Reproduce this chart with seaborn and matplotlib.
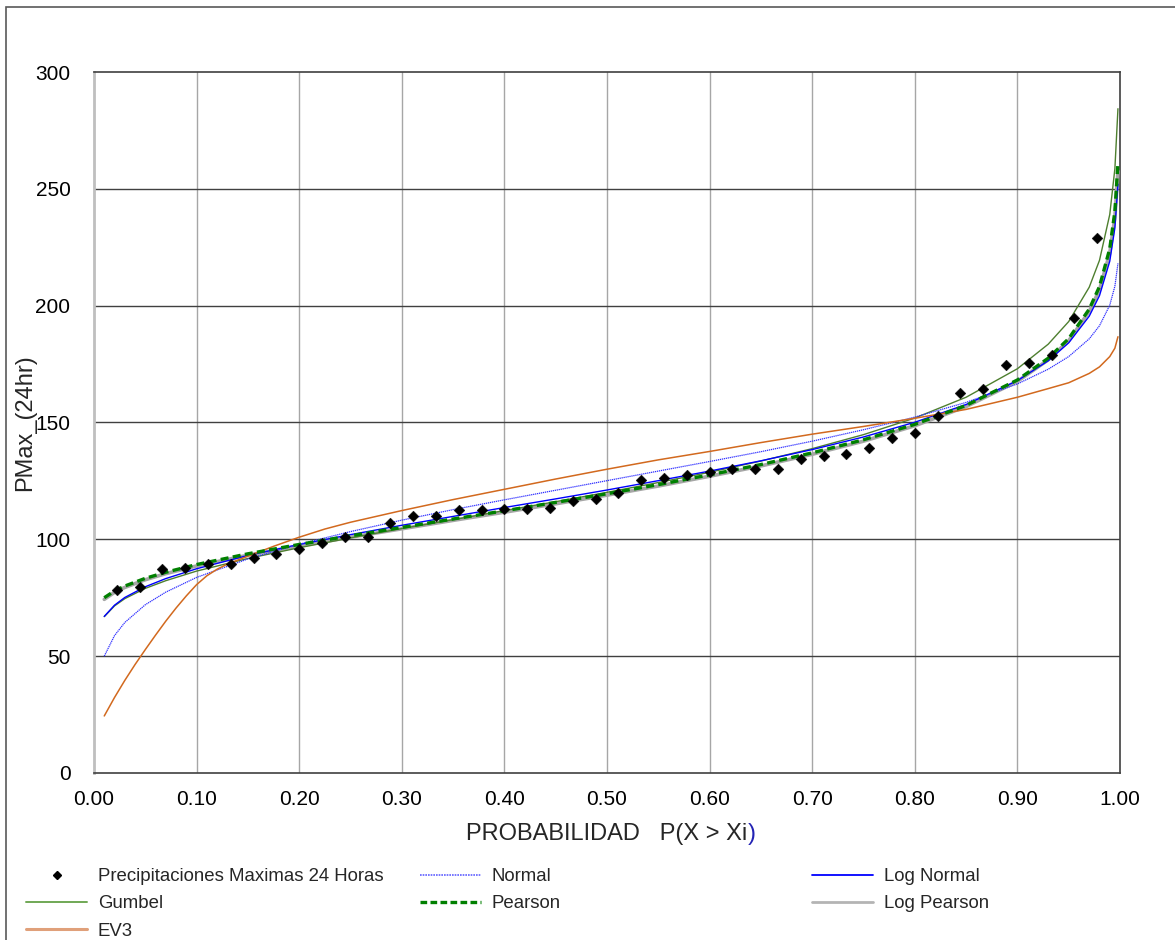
import numpy as np
import pandas as pd
import matplotlib
matplotlib.use("Agg")
import matplotlib.pyplot as plt
from matplotlib.lines import Line2D
from matplotlib.patches import Rectangle
import seaborn as sns

# Observed 24-hour maximum precipitation, plotted at Weibull positions m/(n+1)
obs_prob = [i / 45 for i in range(1, 45)]
obs_pmax = [78.3, 79.5, 87.3, 87.6, 89.3, 89.6, 92.0, 93.7, 95.9, 98.6,
            101.1, 101.2, 107.0, 110.0, 110.0, 112.4, 112.5, 113.1, 112.8, 113.5,
            116.5, 117.1, 120.0, 125.4, 126.1, 127.6, 128.9, 129.9, 130.1, 130.1,
            134.4, 135.8, 136.6, 138.9, 143.3, 145.4, 152.9, 162.5, 164.3, 174.6,
            175.3, 178.9, 194.6, 229.1]

# Probabilities at which the fitted distributions are tabulated
prob_grid = [0.01, 0.02, 0.03, 0.05, 0.07, 0.10, 0.15, 0.20, 0.25, 0.30,
             0.35, 0.40, 0.45, 0.50, 0.55, 0.60, 0.65, 0.70, 0.75, 0.80,
             0.85, 0.90, 0.93, 0.95, 0.97, 0.98, 0.99, 0.995, 0.998]

normal_q = [50.0, 58.8, 64.4, 72.0, 77.4, 83.7, 91.6, 97.9, 103.3, 108.2,
            112.7, 116.9, 121.0, 125.1, 129.2, 133.3, 137.5, 142.0, 146.9, 152.3,
            158.6, 166.5, 172.8, 178.2, 185.8, 191.4, 200.2, 208.3, 218.1]

lognormal_q = [67.0, 71.8, 75.1, 79.7, 83.2, 87.4, 93.1, 97.8, 102.0, 106.0,
               109.8, 113.6, 117.3, 121.1, 125.1, 129.2, 133.6, 138.4, 143.8, 150.1,
               157.7, 167.9, 176.4, 184.1, 195.5, 204.3, 219.0, 233.3, 252.0]

gumbel_q = [66.9, 71.5, 74.6, 79.0, 82.3, 86.4, 91.8, 96.4, 100.6, 104.6,
            108.4, 112.3, 116.1, 120.1, 124.3, 128.7, 133.5, 138.8, 144.8, 151.9,
            160.8, 173.0, 183.5, 193.2, 207.9, 219.4, 239.0, 258.6, 284.3]

pearson_q = [75.0, 77.9, 80.0, 83.3, 85.9, 89.2, 93.8, 97.8, 101.5, 105.1,
             108.7, 112.2, 115.8, 119.5, 123.4, 127.6, 132.0, 137.0, 142.6, 149.2,
             157.3, 168.2, 177.5, 185.9, 198.5, 208.2, 224.4, 240.4, 261.0]

logpearson_q = [74.3, 77.3, 79.4, 82.7, 85.3, 88.6, 93.2, 97.2, 100.9, 104.5,
                108.1, 111.6, 115.2, 118.9, 122.8, 127.0, 131.4, 136.4, 142.0, 148.6,
                156.8, 167.6, 176.8, 185.0, 197.5, 206.8, 222.5, 237.8, 257.5]

# EV3 is tabulated on its own, denser grid around the lower bend
ev3_prob = [0.01, 0.02, 0.03, 0.04, 0.05, 0.06, 0.07, 0.08, 0.09, 0.10,
            0.11, 0.12, 0.13, 0.15, 0.175, 0.20, 0.225, 0.25, 0.30, 0.35,
            0.40, 0.45, 0.50, 0.55, 0.60, 0.65, 0.70, 0.75, 0.80, 0.85,
            0.90, 0.93, 0.95, 0.97, 0.98, 0.99, 0.995, 0.998]
ev3_q = [24.4, 32.3, 39.6, 46.4, 52.8, 59.0, 65.0, 70.6, 75.8, 80.6,
         84.4, 87.2, 89.4, 92.8, 97.0, 100.9, 104.4, 107.3, 112.3, 117.0,
         121.4, 125.8, 130.0, 134.0, 137.6, 141.4, 145.0, 148.3, 151.8, 155.6,
         160.8, 164.5, 167.0, 171.0, 173.8, 178.2, 181.8, 186.7]

x_ticks = [0.0, 0.1, 0.2, 0.3, 0.4, 0.5, 0.6, 0.7, 0.8, 0.9, 1.0]
y_ticks = [0, 50, 100, 150, 200, 250, 300]

sns.set_style("white")
plt.rcParams["font.family"] = ["Liberation Sans", "DejaVu Sans"]

fig = plt.figure(figsize=(11.75, 9.4), dpi=100)
ax = fig.add_axes([0.0800, 0.1777, 0.8732, 0.7457])

# outer chart-area border
fig.patches.append(Rectangle((6 / 1175, -0.02), 1.05, 1 - 7 / 940 + 0.02,
                             transform=fig.transFigure, fill=False,
                             edgecolor="#595959", linewidth=1.2, zorder=0))

curves = pd.DataFrame({"p": prob_grid, "Normal": normal_q, "Log Normal": lognormal_q,
                       "Gumbel": gumbel_q, "Pearson": pearson_q,
                       "Log Pearson": logpearson_q})
ev3 = pd.DataFrame({"p": ev3_prob, "EV3": ev3_q})

styles = {
    "Log Pearson": dict(color="#a6a6a6", linewidth=2.6, linestyle="-", zorder=3),
    "Pearson": dict(color="#008000", linewidth=2.4, linestyle=(0, (2.4, 1.3)), zorder=4),
    "Gumbel": dict(color="#4e7f2f", linewidth=1.0, linestyle="-", zorder=3),
    "Log Normal": dict(color="#0000ff", linewidth=1.0, linestyle="-", zorder=3),
    "Normal": dict(color="#3030ff", linewidth=0.9, linestyle=(0, (1, 0.6)), zorder=3),
    "EV3": dict(color="#d2691e", linewidth=1.1, linestyle="-", zorder=3),
}
for name in ["Log Pearson", "Gumbel", "Log Normal", "Normal", "Pearson"]:
    sns.lineplot(data=curves, x="p", y=name, ax=ax, sort=False, estimator=None,
                 **styles[name])
sns.lineplot(data=ev3, x="p", y="EV3", ax=ax, sort=False, estimator=None,
             **styles["EV3"])

obs = pd.DataFrame({"p": obs_prob, "pmax": obs_pmax})
sns.scatterplot(data=obs, x="p", y="pmax", ax=ax, marker="D", s=30,
                color="black", edgecolor="black", linewidth=0.3, zorder=6)

ax.set_xlim(0, 1)
ax.set_ylim(0, 300)
ax.set_xticks(x_ticks)
ax.set_xticklabels([f"{v:.2f}" for v in x_ticks])
ax.set_yticks(y_ticks)
ax.set_yticklabels([str(v) for v in y_ticks])
ax.tick_params(axis="both", length=0, labelsize=15, colors="black")
ax.tick_params(axis="x", pad=12)
ax.tick_params(axis="y", pad=17)

ax.grid(False)
for v in x_ticks[1:-1]:
    ax.axvline(v, color="#a6a6a6", linewidth=1.0, zorder=1)
for v in y_ticks[1:-1]:
    ax.axhline(v, color="#404040", linewidth=1.0, zorder=1)

ax.spines["left"].set_color("#bfbfbf")
ax.spines["left"].set_linewidth(2.0)
for side in ["top", "right", "bottom"]:
    ax.spines[side].set_color("#404040")
    ax.spines[side].set_linewidth(1.2)

ax.set_ylabel("PMax_(24hr)", fontsize=17)
ax.yaxis.set_label_coords(-0.056, 0.5)
ax.set_xlabel("PROBABILIDAD   P(X > Xi", fontsize=17, labelpad=10)

# closing parenthesis of the axis title drawn in its own colour
fig.canvas.draw()
bb = ax.xaxis.label.get_window_extent()
fig.text(bb.x1 / fig.bbox.width, bb.y0 / fig.bbox.height, ")", fontsize=17,
         color="#2323b4", ha="left", va="bottom")

# legend in three columns
h_obs = Line2D([], [], linestyle="none", marker="D", markersize=4.2, color="black")
h_normal = Line2D([], [], color="#6060ff", linewidth=1.2, linestyle=(0, (1, 0.6)))
h_lognormal = Line2D([], [], color="#0000ff", linewidth=1.3)
h_gumbel = Line2D([], [], color="#70a855", linewidth=1.4)
h_pearson = Line2D([], [], color="#008000", linewidth=2.4, linestyle=(0, (2.0, 1.0)))
h_logpearson = Line2D([], [], color="#b4b4b4", linewidth=2.0)
h_ev3 = Line2D([], [], color="#e0a07a", linewidth=2.2)

legend_cols = [
    ([h_obs, h_gumbel, h_ev3], ["Precipitaciones Maximas 24 Horas", "Gumbel", "EV3"], 26 / 1175),
    ([h_normal, h_pearson], ["Normal", "Pearson"], 420 / 1175),
    ([h_lognormal, h_logpearson], ["Log Normal", "Log Pearson"], 812 / 1175),
]
for handles, labels, x0 in legend_cols:
    fig.legend(handles, labels, loc="upper left", bbox_to_anchor=(x0, 1 - 868 / 940),
               frameon=False, fontsize=13.4, handlelength=3.3, handletextpad=0.55,
               labelspacing=0.55, borderpad=0, borderaxespad=0)

fig.savefig("out.png", dpi=100)
